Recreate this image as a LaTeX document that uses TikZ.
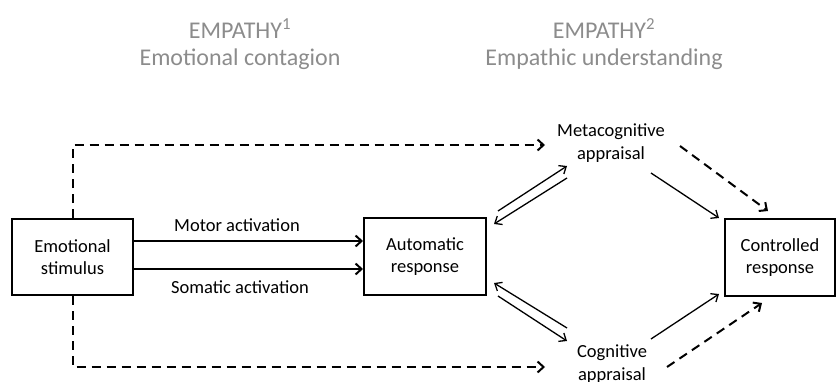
\documentclass[tikz,border=0pt]{standalone}
\usepackage{fontspec}
\setmainfont{Carlito}
\usetikzlibrary{arrows.meta}
\definecolor{titlegray}{RGB}{140,140,140}
\tikzset{
  box/.style={draw, line width=2pt, minimum width=121pt, minimum height=76pt, align=center, font=\fontsize{18.5}{22}\selectfont, inner sep=0pt},
  lbl/.style={align=center, font=\fontsize{18.5}{23}\selectfont, inner sep=0pt},
  ttl/.style={align=center, text=titlegray, font=\fontsize{24}{27}\selectfont, inner sep=0pt},
  arr/.style={line width=2pt, -{Straight Barb[length=6pt,width=11pt,line width=2pt]}},
  darr/.style={arr, dash pattern=on 9pt off 6pt},
  thin/.style={line width=1.3pt, -{Straight Barb[length=6pt,width=10pt,line width=1.3pt]}},
}
\begin{document}
\begin{tikzpicture}[x=1pt,y=-1pt]
\useasboundingbox (0,0) rectangle (837,382);
% titles
\node[ttl] (t1) at (240,44) {EMPATHY\textsuperscript{1}\\Emotional contagion};
\node[ttl] (t2) at (604,44) {EMPATHY\textsuperscript{2}\\Empathic understanding};
% boxes
\node[box] (stim) at (72.5,257) {Emotional\\stimulus};
\node[box, minimum width=122pt, minimum height=77pt] (auto) at (425,256.5) {Automatic\\response};
\node[box, minimum width=110pt, minimum height=77pt] (ctrl) at (780,257.5) {Controlled\\response};
% appraisal texts
\node[lbl] (meta) at (611,143) {Metacognitive\\appraisal};
\node[lbl] (cog) at (612,364) {Cognitive\\appraisal};
% activation labels
\node[lbl] (motor) at (237,225) {Motor activation};
\node[lbl] (soma) at (240,287) {Somatic activation};
% coordinates
\coordinate (metaL) at (545,145);
\coordinate (cogL) at (545,367);
\coordinate (mA1) at (498,211); \coordinate (mA2) at (567,166);
\coordinate (mB1) at (567,178); \coordinate (mB2) at (494,224);
\coordinate (cA1) at (567,328); \coordinate (cA2) at (494,283);
\coordinate (cB1) at (498,296); \coordinate (cB2) at (567,341);
\coordinate (mS1) at (651,173); \coordinate (mS2) at (719,218);
\coordinate (mD1) at (680,146); \coordinate (mD2) at (768,211);
\coordinate (cS1) at (651,339); \coordinate (cS2) at (719,294);
\coordinate (cD1) at (667,367); \coordinate (cD2) at (762,303);
% activation arrows
\draw[arr] (stim.east |- 0,241) -- (auto.west |- 0,241);
\draw[arr] (stim.east |- 0,269) -- (auto.west |- 0,269);
% dashed from stimulus
\draw[darr] (stim.north) -- (stim.north |- metaL) -- (metaL);
\draw[darr] (stim.south) -- (stim.south |- cogL) -- (cogL);
% double arrows
\draw[thin] (mA1) -- (mA2);
\draw[thin] (mB1) -- (mB2);
\draw[thin] (cA1) -- (cA2);
\draw[thin] (cB1) -- (cB2);
% to controlled
\draw[thin] (mS1) -- (mS2);
\draw[thin] (cS1) -- (cS2);
\draw[darr] (mD1) -- (mD2);
\draw[darr] (cD1) -- (cD2);
\end{tikzpicture}
\end{document}
